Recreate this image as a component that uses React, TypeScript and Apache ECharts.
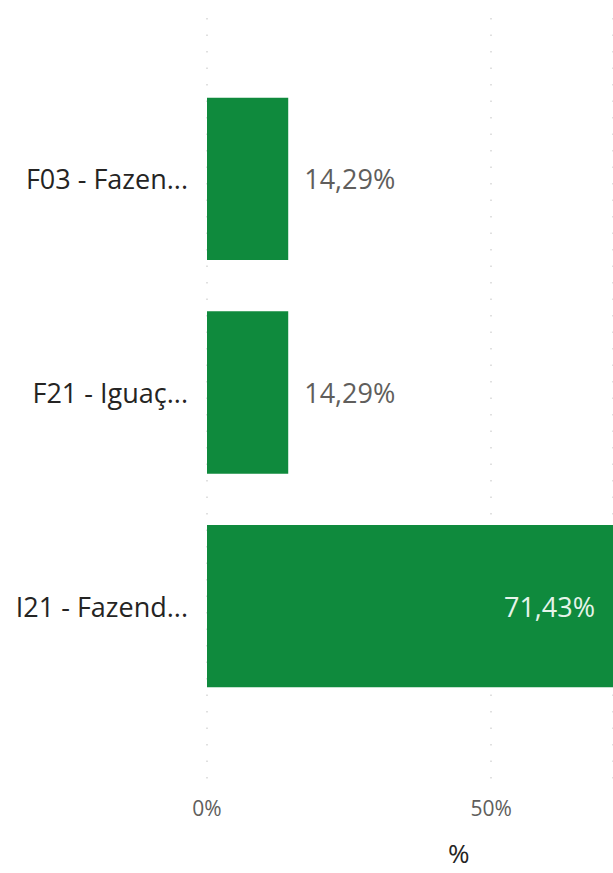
import React, { useEffect, useRef } from "react";
import * as echarts from "echarts";

const categories = ["F03 - Fazen...", "F21 - Iguaç...", "I21 - Fazend..."];
const values = [14.29, 14.29, 71.43];
const axisTicks = [0, 50];
const axisTitle = "%";

const FONT = "'Segoe UI', 'Open Sans', 'Noto Sans', sans-serif";
const GREEN = "#0f8a3d";

const fmt = (v: number) => v.toFixed(2).replace(".", ",") + "%";

export default function App() {
  const ref = useRef<HTMLDivElement>(null);
  useEffect(() => {
    if (!ref.current) return;
    const chart = echarts.init(ref.current, undefined, { renderer: "svg" });
    const maxV = Math.max(...values);
    chart.setOption({
      animation: false,
      backgroundColor: "#ffffff",
      grid: [
        { left: 207, width: 409, top: 18, height: 767 },
        { left: 207, width: 409, top: 72, height: 641 },
      ],
      xAxis: [
        {
          gridIndex: 0,
          type: "value",
          min: axisTicks[0],
          max: maxV,
          interval: axisTicks[1] - axisTicks[0],
          axisLine: { show: false },
          axisTick: { show: false },
          splitLine: {
            show: true,
            lineStyle: { color: "#d6d6d6", width: 1.5, type: [1.5, 15] },
          },
          axisLabel: {
            formatter: "{value}%",
            color: "#605e5c",
            fontFamily: FONT,
            fontSize: 21,
            margin: 12,
            showMaxLabel: false,
          },
        },
        {
          gridIndex: 1,
          type: "value",
          min: 0,
          max: maxV,
          show: false,
        },
      ],
      yAxis: [
        {
          gridIndex: 0,
          type: "category",
          data: categories,
          show: false,
        },
        {
          gridIndex: 1,
          type: "category",
          inverse: true,
          data: categories,
          axisLine: { show: false },
          axisTick: { show: false },
          splitLine: { show: false },
          axisLabel: {
            color: "#252423",
            fontFamily: FONT,
            fontSize: 27,
            margin: 19,
          },
        },
      ],
      graphic: [
        {
          type: "text",
          left: 448,
          top: 840,
          style: {
            text: axisTitle,
            fill: "#252423",
            font: `26px ${FONT}`,
          },
        },
      ],
      series: [
        {
          type: "bar",
          xAxisIndex: 1,
          yAxisIndex: 1,
          barCategoryGap: "24%",
          itemStyle: { color: GREEN },
          data: values.map((v) => ({
            value: v,
            label: {
              show: true,
              position: v > 50 ? "insideRight" : "right",
              distance: v > 50 ? 18 : 16,
              color: v > 50 ? "#e6f4ea" : "#605e5c",
              fontFamily: FONT,
              fontSize: 27,
              formatter: () => fmt(v),
            },
          })),
        },
      ],
    });
    return () => chart.dispose();
  }, []);
  return (
    <div
      ref={ref}
      style={{ position: "absolute", left: 0, top: 0, width: 613, height: 873 }}
    />
  );
}
